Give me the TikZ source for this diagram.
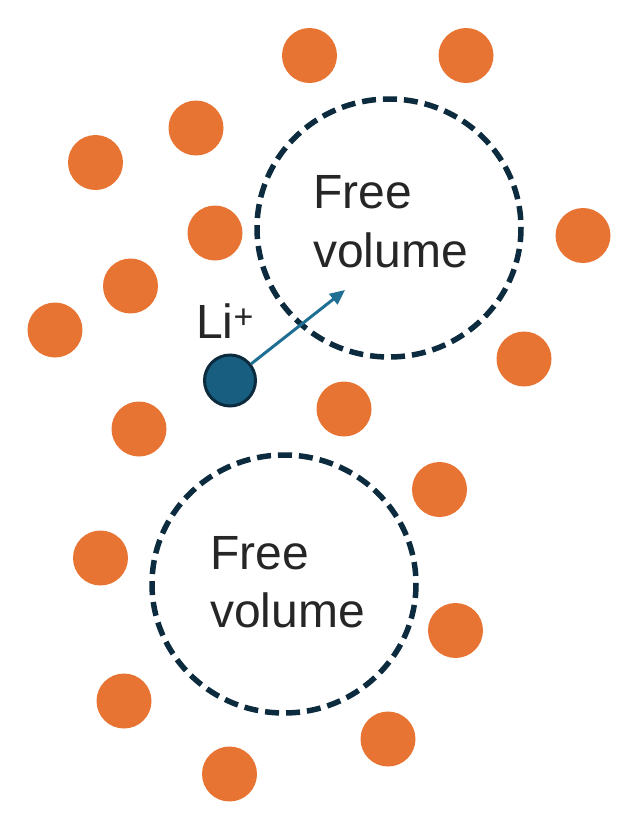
\documentclass[tikz,border=0pt]{standalone}
\usepackage{fontspec}
\setmainfont{Liberation Sans}
\usetikzlibrary{arrows.meta}
\definecolor{orangeball}{HTML}{E87434}
\definecolor{navy}{HTML}{0D2B3E}
\definecolor{liblue}{HTML}{175E80}
\definecolor{arrowblue}{HTML}{1F6E94}
\begin{document}
\begin{tikzpicture}[x=1pt,y=-1pt,
  ball/.style={circle,fill=orangeball,draw=none,minimum size=55pt,inner sep=0pt},
  freevol/.style={draw=navy,line width=5.5pt,dash pattern=on 14pt off 7pt},
  lbl/.style={font=\fontsize{48}{59}\selectfont,text=black!85,inner sep=0pt},
  lion/.style={circle,fill=liblue,draw=navy,line width=3pt,minimum size=51pt,inner sep=0pt},
  move/.style={draw=arrowblue,line width=3pt,-{Triangle[length=15pt,width=13pt]}}]
\useasboundingbox (0,0) rectangle (629,823);
% free volumes
\draw[freevol] (389,228) ellipse [x radius=132, y radius=129];
\draw[freevol] (284,584) ellipse [x radius=132, y radius=129];
% orange particles
\node[ball] (o1) at (309.5,55.5) {};
\node[ball] (o2) at (466,55.5) {};
\node[ball] (o3) at (196,128) {};
\node[ball] (o4) at (95.5,162.5) {};
\node[ball] (o5) at (215,233) {};
\node[ball] (o6) at (583,235.5) {};
\node[ball] (o7) at (130.5,286) {};
\node[ball] (o8) at (55,330) {};
\node[ball] (o9) at (524,359) {};
\node[ball] (o10) at (344,409) {};
\node[ball] (o11) at (139,429) {};
\node[ball] (o12) at (439.5,489.5) {};
\node[ball] (o13) at (100.5,558) {};
\node[ball] (o14) at (455.5,630.5) {};
\node[ball] (o15) at (124,701) {};
\node[ball] (o16) at (388,739) {};
\node[ball] (o17) at (229.5,774) {};
% labels
\node[lbl,anchor=base west] (fv1a) at (313,208) {Free};
\node[lbl,anchor=base west] (fv1b) at (313,267) {volume};
\node[lbl,anchor=base west] (fv2a) at (210,569) {Free};
\node[lbl,anchor=base west] (fv2b) at (210,627) {volume};
% lithium ion
\node[lion] (li) at (230,380.5) {};
\node[lbl,anchor=base west] (lilbl) at (196,338) {Li\textsuperscript{\fontsize{34}{34}\selectfont +}};
\coordinate (tip) at (345,290);
\draw[move] (li) -- (tip);
\end{tikzpicture}
\end{document}
